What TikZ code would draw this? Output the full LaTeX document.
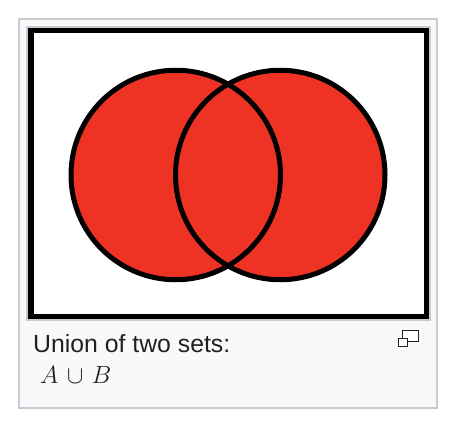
\documentclass[tikz,border=0pt]{standalone}
\usepackage{fontspec}
\setmainfont{Liberation Sans}
\usetikzlibrary{positioning}

\definecolor{setred}{RGB}{238,51,36}
\definecolor{frameline}{RGB}{200,204,209}
\definecolor{framefill}{RGB}{248,249,250}
\definecolor{wikitext}{RGB}{32,33,34}

\begin{document}
\begin{tikzpicture}[x=1pt, y=-1pt,
    setdisc/.style={circle, fill=setred, minimum size=209.5pt, inner sep=0pt},
    caption/.style={anchor=base west, text=wikitext, inner sep=0pt}]
        \useasboundingbox (0,0) rectangle (454,430);

        % Frame
        \draw[frameline, line width=2pt, fill=framefill] (19,19) rectangle (437,408);
        \draw[frameline, line width=2pt, fill=white] (27,27) rectangle (430,320);
        \draw[line width=5.5pt] (30.75,30.75) rectangle (426.25,316.25);

        % Sets
        \node[setdisc] (setA) at (175.75,175) {};
        \node[setdisc] (setB) at (280.25,175) {};
        \draw[line width=5pt] (setA.center) circle (104.75);
        \draw[line width=5pt] (setB.center) circle (104.75);

        % Caption
        \node[caption, font=\fontsize{24.8}{30}\selectfont] (cap) at (33,352) {Union of two sets:};
        \node[caption, font=\fontsize{27}{30}\selectfont] (expr) at (40,383) {$A\mkern2mu\cup\mkern2mu B$};

        % Magnify icon
        \draw[wikitext, line width=1pt, fill=white] (402.5,330.5) rectangle (418.5,341.5);
        \draw[wikitext, line width=1pt, fill=white] (398.5,338.5) rectangle (407,346);
    \end{tikzpicture}
\end{document}
